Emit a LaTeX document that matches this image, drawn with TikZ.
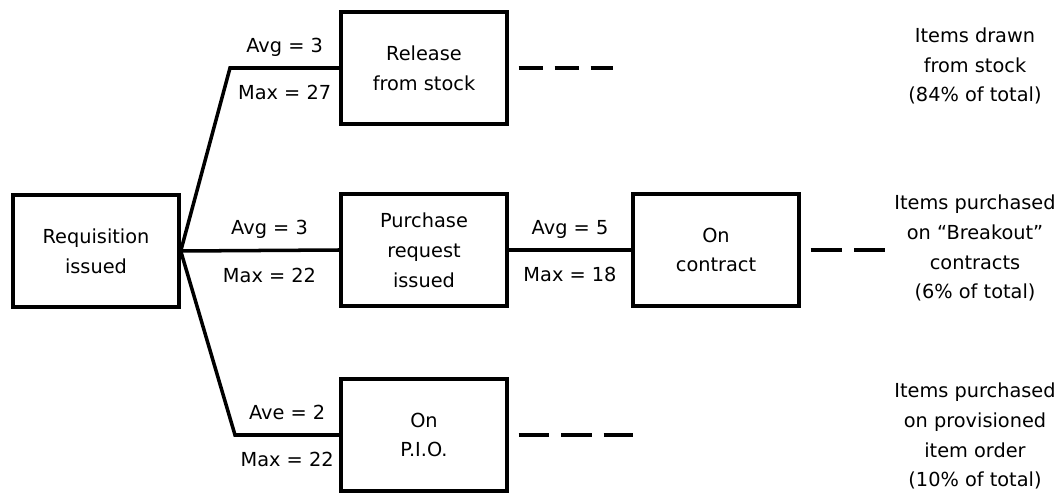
\documentclass[tikz,border=0pt]{standalone}
\usepackage{fontspec}
\setmainfont{DejaVu Sans}
\usepackage{tikz}
\usetikzlibrary{positioning}

\begin{document}
\begin{tikzpicture}[
    x=0.02cm, y=-0.02cm,
    font=\fontsize{11}{17}\selectfont,
    box/.style={draw, line width=2pt, minimum width=3.32cm, minimum height=2.24cm, align=center, inner sep=2pt},
    lbl/.style={inner sep=0pt, text height=8pt, text depth=2.5pt},
    link/.style={line width=2pt},
    tail/.style={line width=2pt, dash pattern=on #1 off 0.24cm, shorten <=0.2cm},
    note/.style={align=center, inner sep=0pt}
]
    \useasboundingbox (0,0) rectangle (1062,493);

    \node[box] (req) at (96,251)  {Requisition\\issued};
    \node[box] (rel) at (424,68)  {Release\\from stock};
    \node[box] (pur) at (424,250) {Purchase\\request\\issued};
    \node[box] (con) at (716,250) {On\\contract};
    \node[box] (pio) at (424,435) {On\\P.I.O.};

    \coordinate (up) at (230,68);
    \coordinate (dn) at (235,435);
    \coordinate (e1) at (613,68);
    \coordinate (e2) at (885,250);
    \coordinate (e3) at (633,435);

    \draw[link] (req.east) -- (up) -- node[lbl,above=5.5pt]{Avg = 3} node[lbl,below=9pt]{Max = 27} (rel.west);
    \draw[link] (req.east) -- node[lbl,above=5.5pt,pos=0.56]{Avg = 3} node[lbl,below=9pt,pos=0.56]{Max = 22} (pur.west);
    \draw[link] (req.east) -- (dn) -- node[lbl,above=5.5pt]{Ave = 2} node[lbl,below=9pt]{Max = 22} (pio.west);
    \draw[link] (pur) -- node[lbl,above=5.5pt]{Avg = 5} node[lbl,below=9pt]{Max = 18} (con);

    \draw[tail=0.48cm] (rel.east) -- (e1);
    \draw[tail=0.63cm] (con.east) -- (e2);
    \draw[tail=0.61cm] (pio.east) -- (e3);

    \node[note] (n1) at (975,66)  {Items drawn\\from stock\\(84\% of total)};
    \node[note] (n2) at (975,248) {Items purchased\\on ``Breakout''\\contracts\\(6\% of total)};
    \node[note] (n3) at (975,436) {Items purchased\\on provisioned\\item order\\(10\% of total)};
\end{tikzpicture}
\end{document}
